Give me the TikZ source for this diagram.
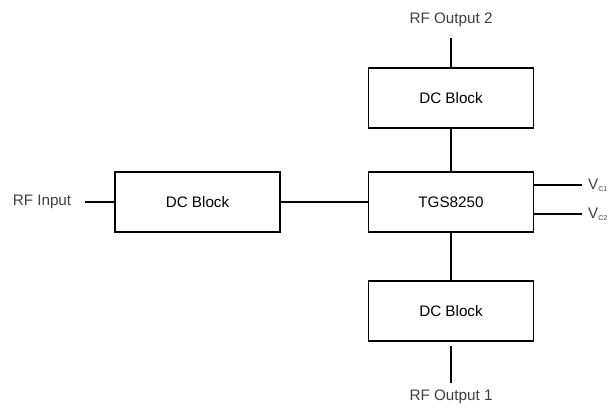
\documentclass[tikz,border=0pt]{standalone}
\usepackage{fontspec}
\setmainfont{Liberation Sans}
\tikzset{
  blk/.style={draw, line width=1.4pt, minimum width=4.95cm, minimum height=1.8cm, inner sep=0pt, font=\fontsize{13}{15}\selectfont},
  lbl/.style={font=\fontsize{13}{15}\selectfont, text=black!75},
  wire/.style={line width=1.4pt}
}
\begin{document}
\begin{tikzpicture}[x=0.03cm,y=0.03cm]
				\useasboundingbox (0,0) rectangle (613,408);
				\node[blk] (dcin) at (197.5,206) {DC Block};
				\node[blk] (tgs) at (451,206) {TGS8250};
				\node[blk] (dctop) at (451,310) {DC Block};
				\node[blk] (dcbot) at (451,97) {DC Block};
				\node[lbl] (rfin) at (42,206) {RF Input};
				\node[lbl] (rfout2) at (451,388) {RF Output 2};
				\node[lbl] (rfout1) at (451,11) {RF Output 1};
				\node[lbl,anchor=west,inner sep=0pt] (va) at (588,223) {V\textsubscript{\fontsize{6}{7}\selectfont C1}};
				\node[lbl,anchor=west,inner sep=0pt] (vb) at (588,194) {V\textsubscript{\fontsize{6}{7}\selectfont C2}};
				\coordinate (inend) at (85,206);
				\coordinate (out2end) at (451,370);
				\coordinate (out1top) at (451,62);
				\coordinate (out1end) at (451,25);
				\coordinate (vaend) at (582,223);
				\coordinate (vbend) at (582,194);
				\draw[wire] (inend) -- (dcin.west);
				\draw[wire] (dcin.east) -- (tgs.west);
				\draw[wire] (out2end) -- (dctop.north);
				\draw[wire] (dctop.south) -- (tgs.north);
				\draw[wire] (tgs.south) -- (dcbot.north);
				\draw[wire] (out1top) -- (out1end);
				\draw[wire] (tgs.east |- vaend) -- (vaend);
				\draw[wire] (tgs.east |- vbend) -- (vbend);
			\end{tikzpicture}
\end{document}
